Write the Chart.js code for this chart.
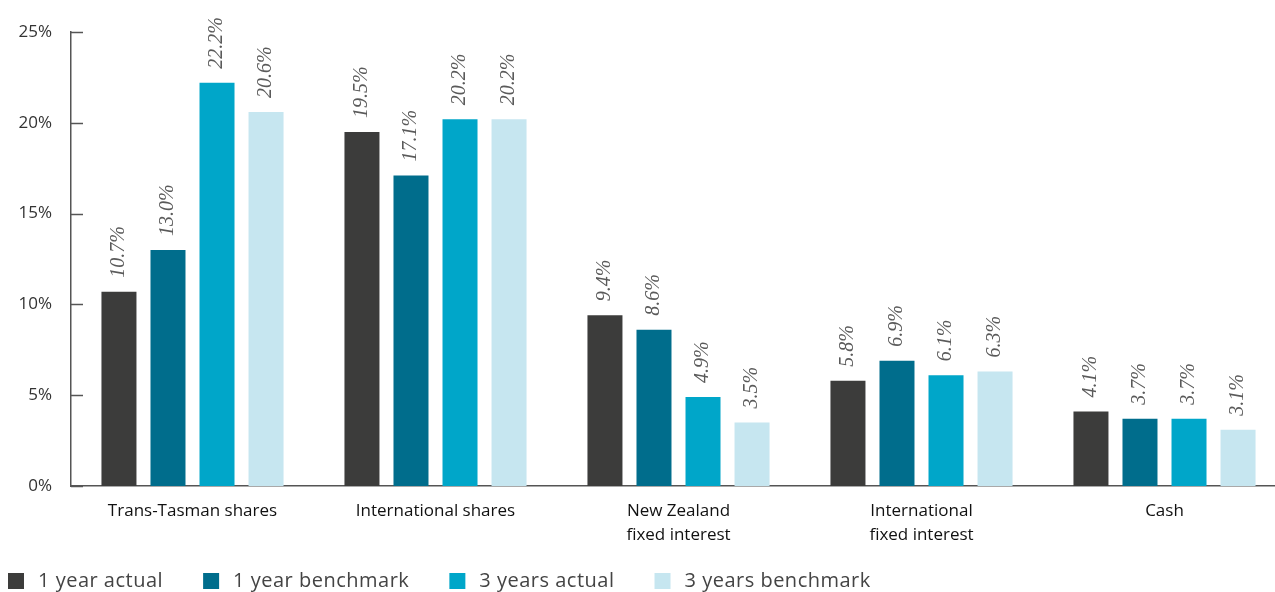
<!DOCTYPE html>
<html lang="en">
<head>
    <meta charset="UTF-8">
    <title>Returns</title>
    <script src="https://cdn.jsdelivr.net/npm/chart.js"></script>
    <style>
        html, body { margin: 0; padding: 0; background: #fff; overflow: hidden; }
        #wrap { width: 1275px; height: 592px; overflow: hidden; }
        canvas { display: block; }
    </style>
</head>
<body>
    <div id="wrap">
        <canvas id="chart" width="1286" height="592"></canvas>
    </div>

    <script>
        // Dane z wykresu
        const categories = [
            'Trans-Tasman shares',
            'International shares',
            ['New Zealand', 'fixed interest'],
            ['International', 'fixed interest'],
            'Cash'
        ];
        const seriesNames = ['1 year actual', '1 year benchmark', '3 years actual', '3 years benchmark'];
        const oneYearActual = [10.7, 19.5, 9.4, 5.8, 4.1];
        const oneYearBenchmark = [13.0, 17.1, 8.6, 6.9, 3.7];
        const threeYearsActual = [22.2, 20.2, 4.9, 6.1, 3.7];
        const threeYearsBenchmark = [20.6, 20.2, 3.5, 6.3, 3.1];
        const yTicks = [0, 5, 10, 15, 20, 25];

        const colors = ['#3c3c3b', '#006d8c', '#00a6c9', '#c6e6f0'];
        const FONT = '"Open Sans", sans-serif';

        // Etykiety wartosci nad slupkami (obrocone, kursywa)
        const valueLabels = {
            id: 'valueLabels',
            afterDatasetsDraw(chart) {
                const ctx = chart.ctx;
                ctx.save();
                ctx.font = 'italic 20px "Liberation Serif", serif';
                ctx.fillStyle = '#5a5a5a';
                ctx.textAlign = 'left';
                ctx.textBaseline = 'middle';
                chart.data.datasets.forEach((ds, i) => {
                    chart.getDatasetMeta(i).data.forEach((bar, j) => {
                        ctx.save();
                        ctx.translate(bar.x, bar.y - 14);
                        ctx.rotate(-Math.PI / 2);
                        ctx.fillText(ds.data[j].toFixed(1) + '%', 0, 0);
                        ctx.restore();
                    });
                });
                ctx.restore();
            }
        };

        // Krotkie kreski osi Y skierowane do srodka
        const innerTicks = {
            id: 'innerTicks',
            afterDraw(chart) {
                const ctx = chart.ctx;
                const y = chart.scales.y;
                ctx.save();
                ctx.strokeStyle = '#555';
                ctx.lineWidth = 1.5;
                yTicks.forEach(v => {
                    const py = Math.round(y.getPixelForValue(v)) + 0.5;
                    ctx.beginPath();
                    ctx.moveTo(y.right, py);
                    ctx.lineTo(y.right + 12, py);
                    ctx.stroke();
                });
                ctx.restore();
            }
        };

        // Legenda rysowana recznie (pozycje jak w oryginale)
        const bottomLegend = {
            id: 'bottomLegend',
            afterDraw(chart) {
                const ctx = chart.ctx;
                ctx.save();
                ctx.font = '20px ' + FONT;
                ctx.letterSpacing = '0.5px';
                ctx.textBaseline = 'middle';
                ctx.textAlign = 'left';
                let x = 8;
                const top = 573;
                chart.data.datasets.forEach(ds => {
                    ctx.fillStyle = ds.backgroundColor;
                    ctx.fillRect(x, top, 16, 16);
                    ctx.fillStyle = '#444';
                    ctx.fillText(ds.label, x + 30, top + 8);
                    x += 30 + ctx.measureText(ds.label).width + 40;
                });
                ctx.restore();
            }
        };

        const seriesData = [oneYearActual, oneYearBenchmark, threeYearsActual, threeYearsBenchmark];

        new Chart(document.getElementById('chart'), {
            type: 'bar',
            data: {
                labels: categories,
                datasets: seriesNames.map((name, i) => ({
                    label: name,
                    data: seriesData[i],
                    backgroundColor: colors[i],
                    categoryPercentage: 0.807,
                    barPercentage: 0.714
                }))
            },
            options: {
                responsive: false,
                animation: false,
                layout: { padding: { top: 32, right: 0, bottom: 0, left: 0 } },
                plugins: {
                    legend: { display: false },
                    tooltip: { enabled: false }
                },
                scales: {
                    x: {
                        afterFit: s => { s.height = 106; },
                        grid: { display: false, drawTicks: false },
                        border: { color: '#555', width: 1.5 },
                        ticks: {
                            padding: 13,
                            color: '#111',
                            font: { family: FONT, size: 17, lineHeight: 1.4 }
                        }
                    },
                    y: {
                        min: 0,
                        max: 25,
                        afterFit: s => { s.width = 71; },
                        afterBuildTicks: s => { s.ticks = yTicks.map(v => ({ value: v })); },
                        grid: { display: false, drawTicks: false },
                        border: { color: '#555', width: 1.5 },
                        ticks: {
                            padding: 19,
                            color: '#333',
                            font: { family: FONT, size: 17 },
                            callback: v => v + '%'
                        }
                    }
                }
            },
            plugins: [valueLabels, innerTicks, bottomLegend]
        });
    </script>
</body>
</html>
